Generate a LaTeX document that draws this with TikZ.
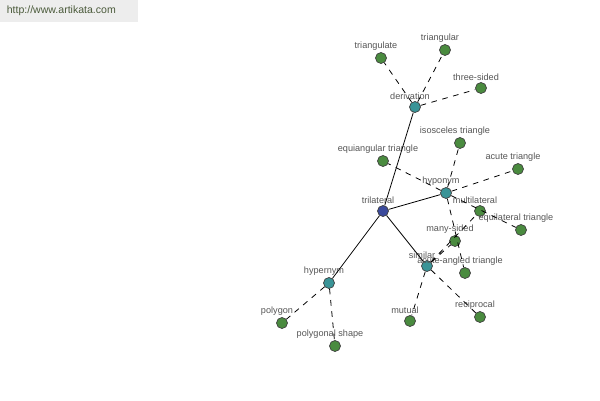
\documentclass[tikz,border=0pt]{standalone}
\usepackage{fontspec}
\setmainfont{Liberation Sans}
\definecolor{rootblue}{HTML}{3B4A9C}
\definecolor{relteal}{HTML}{3A9497}
\definecolor{wordgreen}{HTML}{4A8B3F}
\definecolor{labelgray}{HTML}{555555}
\definecolor{urlgray}{HTML}{EDEDED}
\definecolor{urltext}{HTML}{4A5A3A}
\begin{document}
\begin{tikzpicture}
        [x=0.02cm,y=-0.02cm,
         dot/.style ={draw=black!75,circle,inner sep=0pt,minimum size=0.22cm,
           label={[labelgray,font=\fontsize{5.2}{6}\selectfont,inner sep=0.6pt,xshift=-0.1cm]above:#1}},
         root/.style={dot=#1,fill=rootblue},
         rel/.style ={dot=#1,fill=relteal},
         word/.style={dot=#1,fill=wordgreen},
         syn/.style ={dash pattern=on 3.2pt off 3.2pt}]
        \useasboundingbox (0,0) rectangle (600,400);
        \node[fill=urlgray,anchor=north west,minimum width=2.76cm,minimum height=0.4cm,
          text=urltext,font=\fontsize{6}{7}\selectfont,align=left,text width=2.5cm] (url) at (0,0) {http://www.artikata.com};
        % relation nodes
        \node[root=trilateral] (tri) at (383,211){};
        \node[rel=derivation] (der) at (415,107){};
        \node[rel=hyponym] (hypo) at (446,193){};
        \node[rel=similar] (sim) at (427,266){};
        \node[rel=hypernym] (hyper) at (329,283){};
        % words
        \node[word=triangulate] (triangulate) at (381,58){};
        \node[word=triangular] (triangular) at (445,50){};
        \node[word=three-sided] (threesided) at (481,88){};
        \node[word=isosceles triangle] (isosceles) at (460,143){};
        \node[word=equiangular triangle] (equiangular) at (383,161){};
        \node[word=acute triangle] (acute) at (518,169){};
        \node[word=multilateral] (multilateral) at (480,211){};
        \node[word=equilateral triangle] (equilateral) at (521,230){};
        \node[word=many-sided] (manysided) at (455,241){};
        \node[word=acute-angled triangle] (acuteangled) at (465,273){};
        \node[word=mutual] (mutual) at (410,321){};
        \node[word=reciprocal] (reciprocal) at (480,317){};
        \node[word=polygon] (polygon) at (282,323){};
        \node[word=polygonal shape] (polyshape) at (335,346){};
        \draw[line width=0.45pt] (tri) to (der) (tri) to (hypo) (tri) to (sim) (tri) to (hyper);
        \draw[syn,line width=0.45pt] (der) to (triangulate) (der) to (triangular) (der) to (threesided)
          (hypo) to (isosceles) (hypo) to (equiangular) (hypo) to (acute)
          (hypo) to (equilateral) (hypo) to (acuteangled)
          (sim) to (multilateral) (sim) to (manysided) (sim) to (mutual) (sim) to (reciprocal)
          (hyper) to (polygon) (hyper) to (polyshape);
    \end{tikzpicture}
\end{document}
